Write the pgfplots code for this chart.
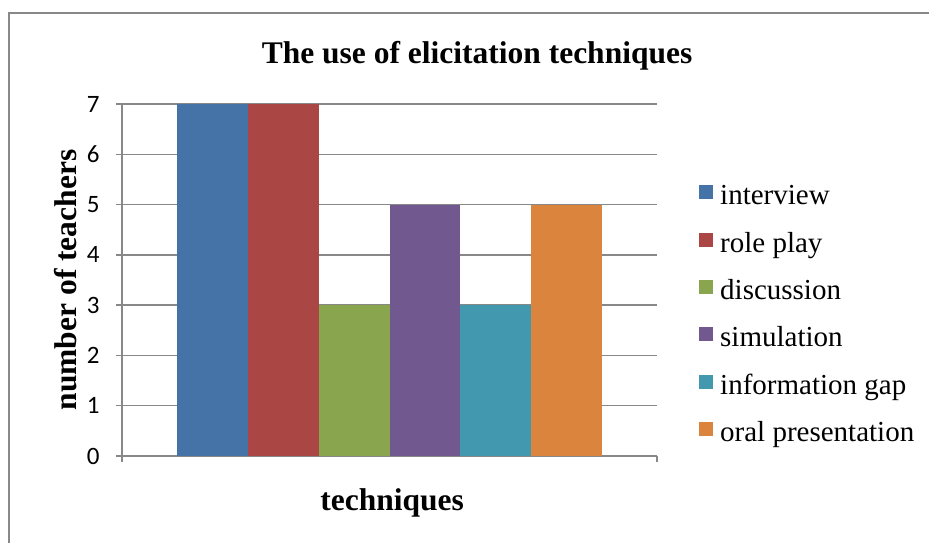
\documentclass[border=0pt]{standalone}
\usepackage{pgfplots}
\pgfplotsset{compat=1.18}
\usepackage{fontspec}
\setmainfont{Liberation Serif}
\newfontfamily\tickfont{Carlito}
\newfontfamily\legfont{Liberation Serif}
\definecolor{c1}{HTML}{4572A7}
\definecolor{c2}{HTML}{AA4643}
\definecolor{c3}{HTML}{89A54E}
\definecolor{c4}{HTML}{71588F}
\definecolor{c5}{HTML}{4198AF}
\definecolor{c6}{HTML}{DB843D}
\definecolor{gridgray}{HTML}{888888}
\newcommand{\lf}{\legfont\fontsize{29}{34}\selectfont}
\begin{document}
\begin{tikzpicture}[x=1pt,y=1pt]
\useasboundingbox (0,0) rectangle (929,543);
\draw[color=gridgray, line width=1.5pt] (9,-5) -- (9,530) -- (935,530);
\begin{axis}[
  at={(122pt,87pt)}, anchor=south west,
  scale only axis, width=535pt, height=352pt,
  ybar=0pt, bar width=70.67pt,
  xmin=-0.5, xmax=0.5, ymin=0, ymax=7,
  ytick={0,1,...,7}, xtick={-0.5,0.5}, xticklabels={},
  axis x line*=bottom, axis y line*=left,
  axis line style={gridgray, line width=1.5pt, -},
  tick style={gridgray, line width=1.5pt},
  tick align=outside, major tick length=6pt,
  ymajorgrids, grid style={gridgray, line width=1.5pt},
  /pgf/number format/assume math mode=true,
  yticklabel style={font=\tickfont\fontsize{25}{30}\selectfont, xshift=-13pt},
  title={The use of elicitation techniques},
  title style={font=\bfseries\fontsize{31.5}{36}\selectfont, at={(axis description cs:0.6636,1.12)}, anchor=center},
  xlabel={techniques},
  xlabel style={font=\bfseries\fontsize{31.5}{36}\selectfont, at={(axis description cs:0.505,-0.133)}, anchor=center},
  ylabel={number of teachers},
  ylabel style={font=\bfseries\fontsize{31.5}{36}\selectfont, at={(axis description cs:-0.105,0.5)}, anchor=center},
  legend style={at={(axis description cs:1.0785,0.396)}, anchor=west, draw=none,
    font=\lf, row sep=20.3pt, inner sep=0pt,
    nodes={text height=20pt, text depth=7pt, inner sep=0pt, outer sep=0pt}},
  legend cell align=left,
  legend image code/.code={\fill[#1, draw=none] (0pt,-1pt) rectangle (14pt,13pt); \path (21pt,6pt);},
]
\addplot[fill=c1, draw=none] coordinates {(0,7)};
\addplot[fill=c2, draw=none] coordinates {(0,7)};
\addplot[fill=c3, draw=none] coordinates {(0,3)};
\addplot[fill=c4, draw=none] coordinates {(0,5)};
\addplot[fill=c5, draw=none] coordinates {(0,3)};
\addplot[fill=c6, draw=none] coordinates {(0,5)};
\legend{{\lf interview}, {\lf role play}, {\lf discussion}, {\lf simulation}, {\lf information gap}, {\lf oral presentation}}
\end{axis}
\end{tikzpicture}
\end{document}
